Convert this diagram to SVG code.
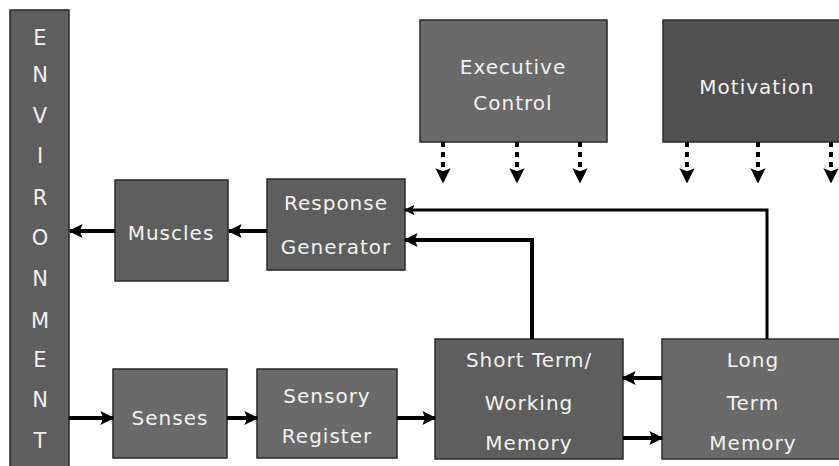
<svg xmlns="http://www.w3.org/2000/svg" width="839" height="466" viewBox="0 0 839 466">
<style>
.box{fill:#5e5e5e;stroke:#2a2a2a;stroke-width:1.5}
.lt{fill:#6a6a6a}
.dk{fill:#505050}
.t{font-family:"DejaVu Sans",sans-serif;font-size:20px;fill:#f2f2f2;text-anchor:middle;letter-spacing:1px}
.env{font-family:"DejaVu Sans",sans-serif;font-size:21px;fill:#f0f0f0;text-anchor:middle}
.ln{fill:none;stroke:#000;stroke-width:4}
.thin{fill:none;stroke:#000;stroke-width:3}
.dash{fill:none;stroke:#000;stroke-width:4;stroke-dasharray:5 5}
</style>
<defs>
<marker id="ah" viewBox="0 0 10 10" refX="9" refY="5" markerWidth="3.5" markerHeight="4" orient="auto" markerUnits="strokeWidth">
<path d="M0,0 L10,5 L0,10 L2,5 Z" fill="#000"/>
</marker>
<marker id="ahd" viewBox="0 0 10 10" refX="9" refY="5" markerWidth="4" markerHeight="3.8" orient="auto" markerUnits="strokeWidth">
<path d="M0,0 L10,5 L0,10 L2,5 Z" fill="#000"/>
</marker>
</defs>
<rect width="839" height="466" fill="#fff"/>
<g id="environment">
<rect class="box" x="10" y="10" width="59" height="460"/>
<text class="env" x="40" y="45">E</text>
<text class="env" x="40" y="82">N</text>
<text class="env" x="40" y="123">V</text>
<text class="env" x="40" y="163">I</text>
<text class="env" x="40" y="205">R</text>
<text class="env" x="40" y="245">O</text>
<text class="env" x="40" y="286">N</text>
<text class="env" x="40" y="328">M</text>
<text class="env" x="40" y="367">E</text>
<text class="env" x="40" y="407">N</text>
<text class="env" x="40" y="448">T</text>
</g>
<g id="executive-control">
<rect class="box lt" x="420" y="20" width="187" height="122"/>
<text class="t" x="513" y="74">Executive</text>
<text class="t" x="513" y="110">Control</text>
</g>
<g id="motivation">
<rect class="box dk" x="663" y="20" width="190" height="122"/>
<text class="t" x="757" y="94">Motivation</text>
</g>
<g id="muscles">
<rect class="box" x="115" y="180" width="113" height="101"/>
<text class="t" x="171" y="240">Muscles</text>
</g>
<g id="response-generator">
<rect class="box" x="267" y="179" width="138" height="91"/>
<text class="t" x="336" y="210">Response</text>
<text class="t" x="336" y="254">Generator</text>
</g>
<g id="senses">
<rect class="box lt" x="113" y="369" width="114" height="89"/>
<text class="t" x="170" y="425">Senses</text>
</g>
<g id="sensory-register">
<rect class="box lt" x="257" y="369" width="140" height="89"/>
<text class="t" x="327" y="403">Sensory</text>
<text class="t" x="327" y="443">Register</text>
</g>
<g id="short-term-memory">
<rect class="box" x="435" y="339" width="188" height="120"/>
<text class="t" x="529" y="367">Short Term/</text>
<text class="t" x="529" y="410">Working</text>
<text class="t" x="529" y="450">Memory</text>
</g>
<g id="long-term-memory">
<rect class="box lt" x="662" y="339" width="190" height="120"/>
<text class="t" x="753" y="367">Long</text>
<text class="t" x="753" y="410">Term</text>
<text class="t" x="753" y="450">Memory</text>
</g>
<g id="connectors">
<line class="dash" x1="443" y1="142" x2="443" y2="182" marker-end="url(#ahd)"/>
<line class="dash" x1="517" y1="142" x2="517" y2="182" marker-end="url(#ahd)"/>
<line class="dash" x1="580" y1="142" x2="580" y2="182" marker-end="url(#ahd)"/>
<line class="dash" x1="687" y1="142" x2="687" y2="182" marker-end="url(#ahd)"/>
<line class="dash" x1="758" y1="142" x2="758" y2="182" marker-end="url(#ahd)"/>
<line class="dash" x1="831" y1="142" x2="831" y2="182" marker-end="url(#ahd)"/>
<line class="ln" x1="267" y1="231" x2="229" y2="231" marker-end="url(#ah)"/>
<line class="ln" x1="115" y1="231" x2="70" y2="231" marker-end="url(#ah)"/>
<line class="ln" x1="69" y1="418" x2="113" y2="418" marker-end="url(#ah)"/>
<line class="ln" x1="227" y1="418" x2="257" y2="418" marker-end="url(#ah)"/>
<line class="ln" x1="397" y1="418" x2="435" y2="418" marker-end="url(#ah)"/>
<line class="ln" x1="662" y1="378" x2="623" y2="378" marker-end="url(#ah)"/>
<line class="ln" x1="623" y1="438" x2="662" y2="438" marker-end="url(#ah)"/>
<polyline class="ln" points="532,339 532,240 405,240" marker-end="url(#ah)"/>
<polyline class="thin" points="767,339 767,210 405,210" marker-end="url(#ah)"/>
</g>
</svg>
